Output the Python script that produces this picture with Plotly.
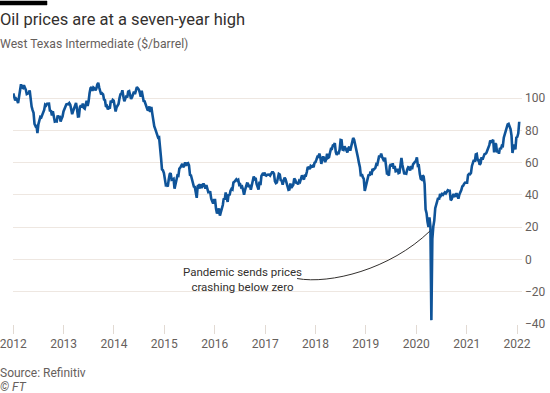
import pandas as pd
import plotly.graph_objects as go

# Weekly (Monday) WTI closing prices, $/barrel
wti_2012 = [103.0, 101.3, 98.7, 99.6, 98.8,
            97.0, 100.9, 103.2, 108.6,
            106.7, 106.3, 108.1, 107.0,
            105.2, 102.5, 102.9, 103.1, 104.9,
            97.9, 94.8, 92.6, 90.9,
            84.0, 82.7, 83.3, 78.4,
            83.8, 86.0, 88.4, 88.1, 89.8,
            92.2, 92.7, 96.0, 95.5,
            96.5, 96.5, 96.6, 91.9,
            92.5, 89.3, 91.9, 88.7, 85.5,
            85.7, 85.6, 89.3, 87.7,
            89.1, 85.6, 87.2, 88.6, 91.8]
wti_2013 = [93.2, 94.1, 96.2, 96.4,
            96.2, 97.0, 95.9, 93.1,
            90.1, 92.1, 93.7, 95.8,
            97.1, 93.4, 88.7, 88.8, 94.5,
            95.6, 94.2, 96.7, 94.0,
            93.5, 95.8, 98.4, 95.2,
            98.0, 103.1, 106.3, 106.9, 104.6,
            106.6, 106.1, 104.9, 105.9,
            108.5, 109.5, 106.6, 103.6, 102.3,
            103.0, 102.4, 99.2, 98.7,
            94.6, 95.1, 93.0, 94.1,
            93.6, 98.4, 97.5, 98.9, 98.4]
wti_2014 = [93.4, 91.8, 94.4, 95.7,
            96.4, 99.9, 102.4, 102.8,
            104.9, 101.1, 98.1, 99.6, 101.6,
            100.4, 104.1, 104.4, 100.8,
            99.5, 100.6, 102.6, 104.1,
            102.5, 104.4, 106.9, 106.2, 105.4,
            103.5, 100.9, 104.6, 101.7,
            98.3, 98.1, 96.4, 93.7,
            92.9, 92.7, 94.9, 91.5, 94.6,
            90.3, 85.7, 82.7, 81.0,
            78.8, 77.4, 75.6, 75.8,
            66.2, 63.1, 55.9, 55.3, 53.6]
wti_2015 = [50.0, 46.1, 46.4, 45.2,
            49.6, 52.9, 53.5, 49.4,
            49.6, 50.0, 43.9, 47.5, 48.7,
            52.1, 51.9, 56.4, 57.0,
            58.9, 59.3, 57.3, 58.0,
            60.2, 58.1, 59.5, 59.7, 58.3,
            52.5, 52.2, 50.2, 47.4,
            45.2, 45.0, 41.9, 38.2,
            45.4, 45.9, 44.0, 46.7, 44.4,
            46.3, 47.1, 45.9, 44.0,
            46.1, 44.2, 41.7, 41.8, 41.7,
            37.7, 36.3, 34.7, 36.8]
wti_2016 = [36.8, 31.4, 28.5, 30.3,
            31.6, 27.2, 29.0, 31.9, 33.8,
            37.9, 37.2, 41.5, 39.4,
            35.7, 40.4, 39.8, 42.6,
            43.8, 43.4, 47.7, 48.1, 49.1,
            49.7, 48.9, 49.4, 46.3,
            46.6, 44.8, 45.2, 43.1,
            40.1, 43.0, 45.7, 47.1, 47.0,
            44.8, 46.3, 43.3, 45.9,
            48.8, 51.4, 50.0, 50.5, 46.9,
            44.9, 43.3, 48.2, 46.1,
            51.8, 52.8, 52.1, 53.9]
wti_2017 = [52.3, 52.0, 52.5, 52.8, 52.6,
            52.0, 52.9, 54.1, 54.1,
            53.2, 48.4, 47.3, 47.7,
            50.2, 53.1, 52.7, 49.2,
            48.8, 46.4, 48.9, 50.7, 49.7,
            47.4, 46.1, 43.2, 43.4,
            47.1, 44.4, 46.0, 46.3, 50.2,
            49.4, 47.6, 47.4, 46.6,
            48.7, 48.1, 49.9, 52.2,
            50.6, 49.6, 52.0, 52.0, 54.2,
            57.4, 56.8, 56.1, 58.0,
            57.5, 58.0, 57.2, 60.0]
wti_2018 = [60.4, 62.0, 63.7, 63.6, 65.6,
            63.4, 59.3, 61.9, 63.9,
            62.6, 60.4, 62.1, 65.6,
            63.0, 63.4, 66.2, 68.6, 68.6,
            70.7, 71.0, 72.2, 66.7,
            64.8, 66.1, 65.9, 68.1,
            74.1, 73.9, 68.1, 67.9, 70.1,
            69.0, 67.2, 66.4, 68.9,
            69.9, 67.5, 69.9, 72.1,
            75.3, 74.3, 71.8, 69.2, 67.0,
            63.1, 59.9, 57.2, 51.6,
            53.0, 51.0, 49.9, 42.5, 45.4]
wti_2019 = [48.5, 50.5, 52.6, 52.0,
            54.6, 52.4, 56.1, 55.5,
            56.6, 56.8, 59.1, 58.8,
            61.6, 64.4, 63.4, 65.7, 63.5,
            62.3, 61.0, 63.1, 59.1,
            53.3, 53.3, 52.0, 57.9,
            59.1, 57.7, 59.6, 56.2, 57.9,
            54.7, 54.9, 56.2, 53.6,
            53.9, 57.9, 62.9, 58.6, 54.1,
            52.8, 53.6, 53.3, 55.8,
            57.2, 56.9, 55.2, 58.0,
            56.0, 59.0, 60.2, 60.5, 61.1]
wti_2020 = [63.3, 58.1, 58.3, 53.1,
            50.1, 49.6, 52.1, 51.4,
            46.8, 31.1, 28.7, 23.4, 20.1,
            26.1, 20.4, -37.6, 12.8,
            20.4, 24.1, 31.8, 34.4,
            35.4, 38.2, 37.1, 40.7, 39.7,
            40.6, 40.1, 40.8, 41.6,
            41.0, 42.0, 42.9, 42.6, 42.6,
            36.8, 37.3, 39.3, 40.6,
            39.2, 39.4, 41.1, 38.6,
            37.7, 40.3, 41.3, 43.1, 45.3,
            45.8, 47.0, 47.7, 47.6]
wti_2021 = [47.6, 52.3, 53.0, 52.8,
            53.6, 58.0, 60.1, 61.7,
            60.6, 65.1, 65.4, 61.6, 61.6,
            58.7, 59.7, 63.4, 61.9,
            64.5, 65.3, 65.5, 66.1, 67.7,
            69.2, 70.9, 73.7, 72.9,
            73.4, 74.1, 66.4, 71.9,
            71.3, 66.5, 67.3, 65.6, 69.2,
            68.4, 70.5, 70.3, 75.5,
            77.6, 80.5, 82.4, 83.8,
            84.1, 81.9, 80.9, 76.8, 66.0,
            69.5, 71.3, 68.2, 75.6]
wti_2022 = [76.1, 78.2, 85.4]

yearly = {2012: wti_2012, 2013: wti_2013, 2014: wti_2014, 2015: wti_2015,
          2016: wti_2016, 2017: wti_2017, 2018: wti_2018, 2019: wti_2019,
          2020: wti_2020, 2021: wti_2021, 2022: wti_2022}

dates, prices = [], []
for yr, vals in yearly.items():
    mondays = pd.date_range(f"{yr}-01-01", f"{yr}-12-31", freq="W-MON")[:len(vals)]
    dates.extend(mondays)
    prices.extend(vals[:len(mondays)])

year_ticks = [f"{y}-01-01" for y in range(2012, 2023)]
year_labels = [str(y) for y in range(2012, 2023)]
y_ticks = [-40, -20, 0, 20, 40, 60, 80, 100]

TEXT = "#33302E"
GREY = "#66605C"
GRID = "#EEE7E1"
FONT = "Roboto"

fig = go.Figure()
fig.add_trace(go.Scatter(x=dates, y=prices, mode="lines",
                         line=dict(color="#0F5499", width=2.6),
                         hoverinfo="skip", showlegend=False))

fig.update_layout(
    width=550, height=393,
    margin=dict(l=13, r=28, t=74, b=69, autoexpand=False),
    paper_bgcolor="#FFFFFF", plot_bgcolor="#FFFFFF",
    font=dict(family=FONT, color=GREY, size=12),
    showlegend=False,
)
fig.update_xaxes(type="date", range=["2011-12-31", "2022-02-06"],
                 tickvals=year_ticks, ticktext=year_labels,
                 showgrid=False, zeroline=False, showline=False,
                 automargin=False, ticklabeloverflow="allow",
                 ticks="outside", ticklen=9, tickcolor="#E2DAD3", tickwidth=1,
                 tickfont=dict(size=12, color=GREY, family=FONT))
fig.update_yaxes(range=[-40, 115], side="right", tickvals=y_ticks,
                 showgrid=True, gridcolor=GRID, gridwidth=1.2,
                 zeroline=False, showline=False, ticks="",
                 automargin=False, ticklabeloverflow="allow",
                 ticklabelstandoff=2,
                 tickfont=dict(size=12, color=GREY, family=FONT))

# top-left brand bar
fig.add_shape(type="rect", xref="paper", yref="paper",
              x0=-13/509, x1=34/509, y0=(324-5)/250, y1=(324-1)/250,
              fillcolor="#000000", line=dict(color="#000000", width=0.5),
              layer="above")

# connector curve for annotation
fig.add_shape(type="path", xref="paper", yref="y",
              path="M 0.558,-11.8 C 0.623,-15.5 0.741,-6.2 0.819,17.6",
              line=dict(color="#33302E", width=1))

fig.add_annotation(xref="paper", yref="y", x=0.45, y=-12.6,
                   text="Pandemic sends prices<br>crashing below zero",
                   showarrow=False, align="center",
                   xanchor="center", yanchor="middle",
                   font=dict(size=11.5, color=TEXT, family=FONT))

fig.add_annotation(xref="paper", yref="paper", x=-13/509, y=(324-19.5)/250,
                   text="Oil prices are at a seven-year high", showarrow=False,
                   xanchor="left", yanchor="middle", xshift=-2,
                   font=dict(size=16.5, color=TEXT, family=FONT))
fig.add_annotation(xref="paper", yref="paper", x=-13/509, y=(324-44.5)/250,
                   text="West Texas Intermediate ($/barrel)", showarrow=False,
                   xanchor="left", yanchor="middle", xshift=-2,
                   font=dict(size=12.2, color=GREY, family=FONT))
fig.add_annotation(xref="paper", yref="paper", x=-13/509, y=(324-373)/250,
                   text="Source: Refinitiv", showarrow=False,
                   xanchor="left", yanchor="middle", xshift=-2,
                   font=dict(size=12, color=GREY, family=FONT))
fig.add_annotation(xref="paper", yref="paper", x=-13/509, y=(324-386.5)/250,
                   text="<i>© FT</i>", showarrow=False,
                   xanchor="left", yanchor="middle", xshift=-2,
                   font=dict(size=12, color=GREY, family=FONT))

fig.write_html("out.html", config={"displayModeBar": False},
               post_script="document.body.style.margin='0px';document.body.style.overflow='hidden';")
